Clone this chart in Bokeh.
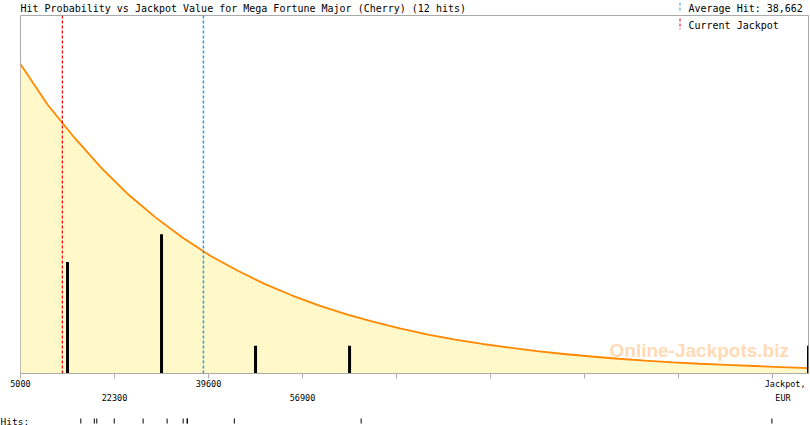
from bokeh.plotting import figure
from bokeh.models import (Range1d, FixedTicker, LinearAxis, Span, Label,
                          ColumnDataSource, Arrow)
from bokeh.core.properties import value
from bokeh.layouts import column
from bokeh.embed import file_html
from bokeh.resources import INLINE

# ---------------- data ----------------
TITLE = "Hit Probability vs Jackpot Value for Mega Fortune Major (Cherry) (12 hits)"
X_MIN, X_MAX = 5000, 150000
TICK_VALUES = [5000, 22300, 39600, 56900, 74200, 91500, 108800, 126100, 143400]
TICK_LABELS_ROW1 = {5000: "5000", 39600: "39600"}
TICK_LABELS_ROW2 = {22300: "22300", 56900: "56900"}
AXIS_TITLE_1 = "Jackpot,"
AXIS_TITLE_2 = "EUR"
AXIS_TITLE_1_AT = 145700
AXIS_TITLE_2_AT = 145300

AVERAGE_HIT = 38662
CURRENT_JACKPOT = 12700

# histogram of hits (bin centre, number of hits)
BIN_CENTERS = [13650, 30950, 48250, 65550, 150000]
BIN_COUNTS = [4, 5, 1, 1, 1]

# individual hits (jackpot values, EUR)
HIT_VALUES = [16100, 18580, 19040, 22250, 27560, 31980, 34925, 35660, 35700,
              44350, 67680, 143270]

# hit probability curve (in bar-height units)
CURVE_X = [5000, 10000, 15000, 20000, 25000, 30000, 35000, 40000, 45000, 50000,
           55000, 60000, 65000, 70000, 75000, 80000, 85000, 90000, 95000, 100000,
           105000, 110000, 115000, 120000, 125000, 130000, 135000, 140000, 145000,
           150000]
CURVE_Y = [11.11, 9.65, 8.45, 7.36, 6.40, 5.58, 4.86, 4.22, 3.69, 3.21,
           2.80, 2.44, 2.12, 1.85, 1.61, 1.40, 1.22, 1.06, 0.93, 0.80,
           0.70, 0.61, 0.53, 0.46, 0.40, 0.35, 0.31, 0.27, 0.23, 0.19]

WATERMARK = "Online-Jackpots.biz"

# ---------------- style / layout ----------------
MONO = "DejaVu Sans Mono"
GREY = "#aaaaaa"
FILL = "#fff8c8"
ORANGE = "#ff8800"
RED = "#e00000"
BLUE = "#2a9be0"

W, H = 810, 425
TOP_H, BOTTOM_H = 15, 20
LEFT, RIGHT = 20, 2
FRAME_W = W - LEFT - RIGHT
FRAME_H = 360
PX = (X_MAX - X_MIN) / FRAME_W          # data units per pixel
BAR_PX = 28                              # pixels per hit


def no_align(fig):
    if "frame_align" in fig.properties():
        fig.frame_align = False


# ---------------- title row ----------------
pt = figure(width=W, height=TOP_H, output_backend="svg", toolbar_location=None,
            x_range=Range1d(0, W), y_range=Range1d(0, TOP_H),
            x_axis_location=None, y_axis_location=None, min_border=0,
            outline_line_color=None, background_fill_color="white",
            border_fill_color="white")
no_align(pt)
pt.grid.visible = False
pt.text(x=[LEFT], y=[7.5], text=[TITLE], text_font=value(MONO),
        text_font_size="10px", text_baseline="middle", text_align="left",
        text_color="black")
pt.text(x=[688], y=[7.5], text=[f"Average Hit: {AVERAGE_HIT:,}"],
        text_font=value(MONO), text_font_size="10px", text_baseline="middle",
        text_align="left", text_color="black")
pt.segment(x0=[679.5], x1=[679.5], y0=[5], y1=[15], line_color=BLUE,
           line_dash="3 2", line_width=1)

# ---------------- main plot ----------------
p = figure(width=W, height=H - TOP_H - BOTTOM_H, output_backend="svg",
           toolbar_location=None,
           x_range=Range1d(X_MIN, X_MAX), y_range=Range1d(0, FRAME_H / BAR_PX),
           x_axis_location=None, y_axis_location=None,
           min_border_left=LEFT, min_border_right=RIGHT, min_border_top=0,
           min_border_bottom=30, background_fill_color="white",
           border_fill_color="white", outline_line_color=GREY,
           outline_line_width=1)
no_align(p)
p.grid.visible = False

src = ColumnDataSource(dict(x=CURVE_X, y=CURVE_Y))
p.varea(x="x", y1=0, y2="y", source=src, fill_color=FILL)
p.line(x="x", y="y", source=src, line_color=ORANGE, line_width=1.8)

bsrc = ColumnDataSource(dict(x=BIN_CENTERS, top=BIN_COUNTS))
p.vbar(x="x", top="top", bottom=0, width=3 * PX, source=bsrc,
       fill_color="black", line_color=None)

p.add_layout(Span(location=CURRENT_JACKPOT, dimension="height", line_color=RED,
                  line_dash="3 2", line_width=1.2))
p.add_layout(Span(location=AVERAGE_HIT, dimension="height", line_color=BLUE,
                  line_dash="3 2", line_width=1.5))

# axis line + ticks
ax0 = LinearAxis(ticker=FixedTicker(ticks=TICK_VALUES),
                 major_label_overrides={v: "" for v in TICK_VALUES},
                 major_label_text_font_size="1px", major_label_standoff=0,
                 axis_line_color=GREY, major_tick_line_color=GREY,
                 major_tick_out=5, major_tick_in=0, minor_tick_line_color=None)
# first row of labels (+ "Jackpot,")
row1_ticks = list(TICK_LABELS_ROW1.keys()) + [AXIS_TITLE_1_AT]
row1_labels = dict(TICK_LABELS_ROW1)
row1_labels[AXIS_TITLE_1_AT] = AXIS_TITLE_1
ax1 = LinearAxis(ticker=FixedTicker(ticks=row1_ticks),
                 major_label_overrides=row1_labels,
                 axis_line_color=None, major_tick_line_color=None,
                 major_tick_out=0, major_tick_in=0, minor_tick_line_color=None,
                 major_label_text_font=MONO, major_label_text_font_size="8.5px",
                 major_label_standoff=0, major_label_text_color="black")
# second row of labels (+ "EUR")
row2_ticks = list(TICK_LABELS_ROW2.keys()) + [AXIS_TITLE_2_AT]
row2_labels = dict(TICK_LABELS_ROW2)
row2_labels[AXIS_TITLE_2_AT] = AXIS_TITLE_2
ax2 = LinearAxis(ticker=FixedTicker(ticks=row2_ticks),
                 major_label_overrides=row2_labels,
                 axis_line_color=None, major_tick_line_color=None,
                 major_tick_out=0, major_tick_in=0, minor_tick_line_color=None,
                 major_label_text_font=MONO, major_label_text_font_size="8.5px",
                 major_label_standoff=1, major_label_text_color="black")
p.add_layout(ax0, "below")
p.add_layout(ax1, "below")
p.add_layout(ax2, "below")

# legend entry inside the frame
p.add_layout(Label(x=668, y=FRAME_H - 12, x_units="screen", y_units="screen",
                   text="Current Jackpot", text_align="left",
                   text_baseline="middle", text_font=MONO, text_font_size="10px",
                   text_color="black"))
p.add_layout(Arrow(end=None, x_start=659.5, y_start=FRAME_H - 5, x_end=659.5,
                   y_end=FRAME_H - 16, start_units="screen", end_units="screen",
                   line_color=RED, line_dash="3 2", line_width=1))

# watermark
p.add_layout(Label(x=589, y=23, x_units="screen", y_units="screen",
                   text=WATERMARK, text_align="left", text_baseline="alphabetic",
                   text_font="Liberation Sans", text_font_size="19px",
                   text_font_style="bold", text_color="#ffdab4"))

# ---------------- hits row ----------------
p2 = figure(width=W, height=BOTTOM_H, output_backend="svg", toolbar_location=None,
            x_range=Range1d(X_MIN - LEFT * PX, X_MAX + RIGHT * PX),
            y_range=Range1d(0, BOTTOM_H),
            x_axis_location=None, y_axis_location=None, min_border=0,
            outline_line_color=None, background_fill_color="white",
            border_fill_color="white")
no_align(p2)
p2.grid.visible = False
hsrc = ColumnDataSource(dict(x=HIT_VALUES))
p2.segment(x0="x", x1="x", y0=2, y1=7, source=hsrc, line_color="black",
           line_width=1)
p2.text(x=[X_MIN - LEFT * PX], y=[4.5], text=["Hits:"], text_font=value(MONO),
        text_font_size="9.5px", text_baseline="middle", text_align="left",
        text_color="black")

layout = column(pt, p, p2, spacing=0)
open("out.html", "w").write(file_html(layout, INLINE))
